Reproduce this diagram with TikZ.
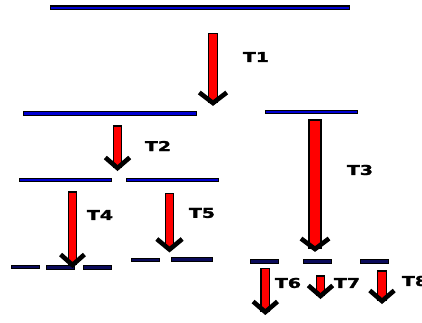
\documentclass[tikz,border=0pt]{standalone}
\usepackage{fontspec}
\newfontfamily\lblfont{DejaVu Sans Bold}[FakeBold=1.6]
\definecolor{lvlblue}{RGB}{0,0,210}
\definecolor{lvlnavy}{RGB}{10,10,90}
\newcommand\lbl[1]{\scalebox{1.4}[1]{\lblfont #1}}
\newcommand\darrow[6]{%
  % #1 name, #2 cx, #3 ytop, #4 ytip, #5 shaft half-width, #6 head half-width
  \draw[shaftbox] (#2-#5,#3) rectangle (#2+#5,#4-5);
  \draw[chev] (#2-#6+2.3,#4-14.5) -- (#2,#4-4) -- (#2+#6-2.3,#4-14.5);
  \coordinate (#1) at (#2,#4);
}
\tikzset{
  lvl/.style={draw=black, line width=1.1pt, fill=lvlblue, inner sep=0pt, minimum height=3.6pt},
  lvld/.style={lvl, fill=lvlnavy},
  shaftbox/.style={draw=black, line width=1.1pt, fill=red},
  chev/.style={draw=black, line width=4.6pt, miter limit=10},
  tlabel/.style={inner sep=0pt, font=\fontsize{13.5}{13.5}\selectfont}
}
\begin{document}
\begin{tikzpicture}[x=1pt,y=-1pt]
\useasboundingbox (0,0) rectangle (422,322);
% levels
\node[lvl, minimum width=299pt] (L0) at (200,7.75) {};
\node[lvl, minimum width=173pt] (L1a) at (110,113.5) {};
\node[lvl, minimum width=92pt] (L1b) at (311.5,112) {};
\node[lvl, minimum width=92pt] (L2a) at (65.5,180) {};
\node[lvl, minimum width=92pt] (L2b) at (172.5,180) {};
\node[lvld, minimum width=28pt] (L3a) at (25.5,267) {};
\node[lvld, minimum width=28pt] (L3b) at (60.5,267.5) {};
\node[lvld, minimum width=28pt] (L3c) at (97.8,267.5) {};
\node[lvld, minimum width=28pt] (L3d) at (145.5,260) {};
\node[lvld, minimum width=40.5pt] (L3e) at (191.8,259.5) {};
\node[lvld, minimum width=28pt] (L4a) at (264.5,261.3) {};
\node[lvld, minimum width=28pt] (L4b) at (317.2,261.3) {};
\node[lvld, minimum width=28pt] (L4c) at (374.5,261.3) {};
% arrows
\darrow{A1}{213}{33.5}{107}{4.4}{16}
\darrow{A2}{117.5}{126}{172}{3.8}{14.5}
\darrow{A3}{315}{120}{253}{6}{16.3}
\darrow{A4}{72.5}{192}{269}{4.2}{14.2}
\darrow{A5}{169.5}{193.5}{253.5}{4.2}{15}
\darrow{A6}{265.3}{268.5}{316}{4.3}{14.5}
\darrow{A7}{320.5}{276}{300}{3.8}{14.5}
\darrow{A8}{382}{271}{305}{4.3}{14.5}
% labels
\node[tlabel] (T1) at (256,57) {\lbl{T1}};
\node[tlabel] (T2) at (158,146) {\lbl{T2}};
\node[tlabel] (T3) at (360,170) {\lbl{T3}};
\node[tlabel] (T4) at (100,215) {\lbl{T4}};
\node[tlabel] (T5) at (202,213) {\lbl{T5}};
\node[tlabel] (T6) at (288,283) {\lbl{T6}};
\node[tlabel] (T7) at (347,283) {\lbl{T7}};
\node[tlabel] (T8) at (415,281) {\lbl{T8}};
\end{tikzpicture}
\end{document}
